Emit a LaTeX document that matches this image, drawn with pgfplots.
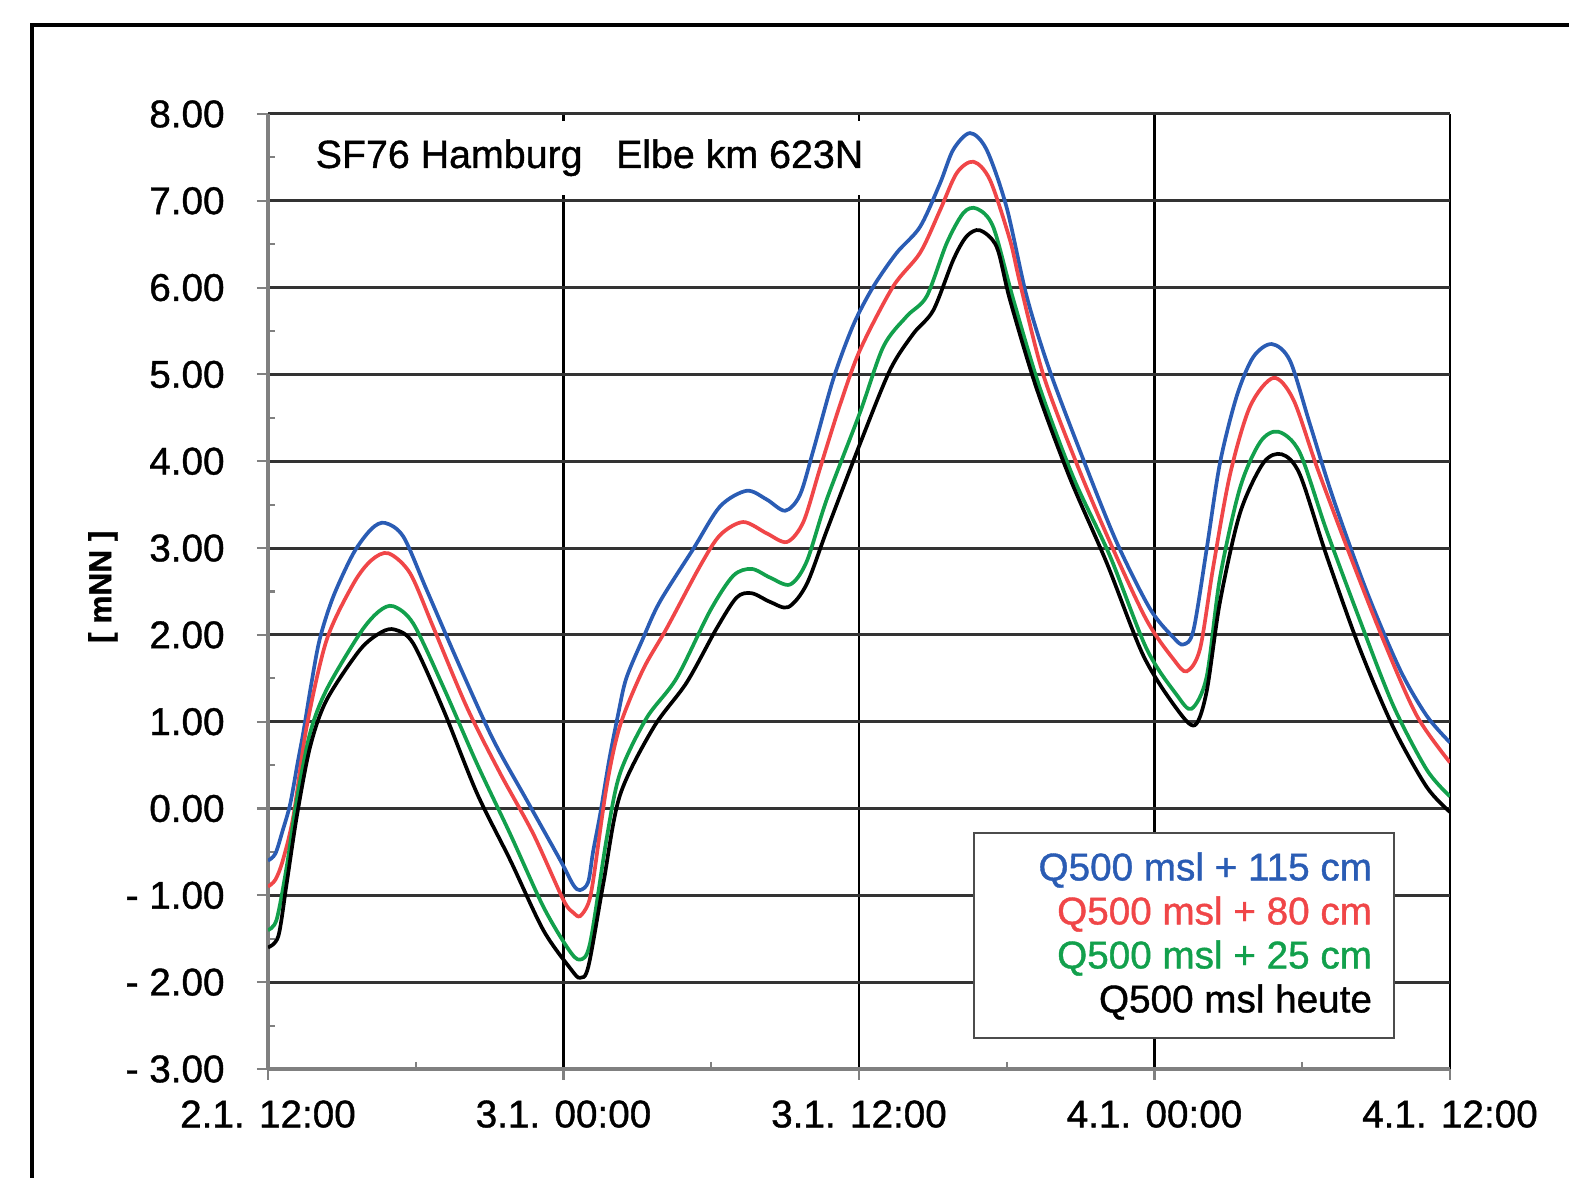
\documentclass[border=0pt]{standalone}
\usepackage{pgfplots}
\pgfplotsset{compat=1.18}
\usepackage{fontspec}
\setmainfont{Liberation Sans}[FakeBold=1.0]
\definecolor{qblue}{RGB}{42,92,180}
\definecolor{qred}{RGB}{240,70,72}
\definecolor{qgreen}{RGB}{18,160,76}
\begin{document}
\begin{tikzpicture}
\useasboundingbox (0,0) rectangle (15.69,11.78);
\begin{scope}
\clip (0,0) rectangle (15.69,11.78);
\draw[line width=0.9pt] (0.32,-1) -- (0.32,11.53) -- (17,11.53);
\end{scope}
\begin{axis}[
  at={(2.68cm,1.09cm)}, anchor=south west,
  scale only axis, width=11.82cm, height=9.55cm,
  xmin=0, xmax=48, ymin=-3, ymax=8,
  axis x line=bottom, axis y line=left,
  axis line style={-, draw=black!50, line width=0.9pt},
  xtick={0,12,24,36,48},
  xticklabels={\mbox{2.1. 12:00},\mbox{3.1. 00:00},\mbox{3.1. 12:00},\mbox{4.1. 00:00},\mbox{4.1. 12:00}},
  minor xtick={6,18,30,42},
  ytick={-3,-2,-1,0,1,2,3,4,5,6,7,8},
  yticklabels={\mbox{- 3.00},\mbox{- 2.00},\mbox{- 1.00},\mbox{0.00},\mbox{1.00},\mbox{2.00},\mbox{3.00},\mbox{4.00},\mbox{5.00},\mbox{6.00},\mbox{7.00},\mbox{8.00}},
  minor ytick={-2.5,-1.5,-0.5,0.5,1.5,2.5,3.5,4.5,5.5,6.5,7.5},
  tick align=outside,
  major tick length=0.11cm,
  minor tick length=-0.07cm,
  tick style={black!50, line width=0.6pt},
  grid=major,
  x grid style={black, line width=0.6pt},
  y grid style={black!80, line width=0.85pt},
  ticklabel style={font=\fontsize{11}{13}\selectfont},
  yticklabel style={xshift=-0.2cm},
  xticklabel style={yshift=-0.08cm},
  ylabel={[ mNN ]},
  ylabel style={at={(rel axis cs:-0.1396,0.505)}, anchor=center, font=\fontsize{9}{11}\selectfont\bfseries},
  legend image code/.code={},
  legend style={at={(rel axis cs:0.9535,0.0314)}, anchor=south east,
    draw=black!70, line width=0.6pt, fill=white,
    inner xsep=0.22cm, inner ysep=0.145cm,
    font=\fontsize{11}{13}\selectfont,
    row sep=0pt,
    nodes={inner sep=0pt, text height=0.33cm, text depth=0.11cm}},
]
\fill[white] (axis cs:0.5,7.92) rectangle (axis cs:24.9,7.07);
\node[anchor=base west, inner sep=0pt, font=\fontsize{11.2}{13}\selectfont] at (axis cs:1.91,7.378) {SF76 Hamburg\hspace{0.85em}Elbe km 623N};

\addplot[qblue, line width=1.05pt, smooth] coordinates {
(0,-0.60) (0.3,-0.52) (0.6,-0.25) (0.9,0.05) (1.2,0.52) (1.43,0.87) (1.75,1.42) (2.1,1.95) (2.65,2.44) (3.47,2.94) (4.2,3.22) (4.75,3.29) (5.5,3.13) (6.44,2.52) (7.80,1.63) (9.15,0.79) (10.50,0.10) (11.86,-0.59) (12.4,-0.88) (12.67,-0.94) (13.0,-0.85) (13.2,-0.5) (13.5,-0.05) (13.85,0.55) (14.23,1.1) (14.55,1.50) (15.23,1.96) (15.91,2.38) (17.27,2.99) (18.36,3.48) (19.44,3.66) (20.25,3.56) (21.0,3.43) (21.6,3.61) (22.15,4.13) (22.96,4.95) (23.77,5.57) (24.58,6.01) (25.53,6.40) (26.48,6.70) (27.29,7.20) (27.83,7.59) (28.51,7.78) (29.18,7.59) (29.99,6.93) (30.81,5.90) (31.75,5.04) (33.11,4.02) (34.46,3.07) (35.82,2.30) (36.77,1.97) (37.17,1.89) (37.58,2.05) (38.12,2.99) (38.66,3.98) (39.34,4.75) (40.01,5.20) (40.76,5.35) (41.50,5.16) (42.31,4.43) (43.26,3.57) (44.62,2.50) (45.97,1.60) (47.05,1.07) (48,0.76)
};
\addlegendentry{\makebox[3.76cm][r]{\textcolor{qblue}{Q500 msl + 115 cm}}}
\addplot[qred, line width=1.05pt, smooth] coordinates {
(0,-0.90) (0.3,-0.82) (0.6,-0.60) (1.03,-0.09) (1.57,0.94) (2.38,1.94) (3.47,2.59) (4.2,2.86) (4.89,2.94) (5.77,2.71) (6.71,2.09) (8.07,1.17) (9.42,0.41) (10.77,-0.29) (11.99,-1.05) (12.4,-1.20) (12.67,-1.24) (13.0,-1.10) (13.21,-0.82) (13.75,0.25) (14.29,0.95) (15.23,1.60) (16.18,2.07) (17.54,2.79) (18.36,3.15) (19.30,3.30) (20.25,3.17) (21.07,3.07) (21.74,3.30) (22.42,3.92) (23.23,4.65) (24.04,5.28) (25.38,6.01) (26.48,6.40) (27.29,6.89) (27.97,7.32) (28.65,7.45) (29.32,7.24) (30.13,6.55) (30.54,6.05) (31.48,5.0) (32.83,3.98) (34.19,3.07) (35.68,2.17) (36.77,1.72) (37.31,1.58) (37.85,1.84) (38.39,2.79) (39.07,3.85) (39.88,4.63) (40.83,4.96) (41.64,4.71) (42.60,3.93) (43.95,2.91) (45.31,1.93) (46.65,1.07) (48,0.53)
};
\addlegendentry{\makebox[3.76cm][r]{\textcolor{qred}{Q500 msl + 80 cm}}}
\addplot[qgreen, line width=1.05pt, smooth] coordinates {
(0,-1.40) (0.35,-1.28) (0.76,-0.67) (1.17,0.10) (1.71,0.87) (2.38,1.37) (3.74,2.02) (4.5,2.27) (5.09,2.33) (5.90,2.13) (7.12,1.40) (8.48,0.52) (9.83,-0.29) (11.18,-1.13) (12.2,-1.62) (12.67,-1.74) (13.08,-1.55) (13.75,-0.35) (14.29,0.40) (15.37,1.04) (16.59,1.50) (17.94,2.27) (18.89,2.68) (19.64,2.76) (20.39,2.66) (21.20,2.58) (21.87,2.84) (22.69,3.56) (24.04,4.56) (24.99,5.32) (25.94,5.67) (26.75,5.90) (27.56,6.51) (28.24,6.86) (28.78,6.91) (29.45,6.70) (30.27,5.86) (31.35,4.84) (32.71,3.81) (34.19,2.91) (35.68,1.84) (36.90,1.31) (37.51,1.15) (38.12,1.52) (38.66,2.66) (39.47,3.69) (40.29,4.22) (41.03,4.34) (41.90,4.10) (42.99,3.20) (44.34,2.17) (45.69,1.19) (47.05,0.45) (48,0.14)
};
\addlegendentry{\makebox[3.76cm][r]{\textcolor{qgreen}{Q500 msl + 25 cm}}}
\addplot[black, line width=1.05pt, smooth] coordinates {
(0,-1.60) (0.42,-1.47) (0.76,-0.86) (1.17,-0.09) (1.71,0.71) (2.38,1.25) (3.74,1.83) (4.6,2.03) (5.16,2.06) (5.90,1.90) (7.12,1.14) (8.48,0.18) (9.83,-0.59) (11.18,-1.40) (12.3,-1.85) (12.67,-1.95) (13.01,-1.82) (13.62,-0.86) (14.29,0.15) (15.65,0.93) (17.0,1.45) (18.21,2.07) (19.03,2.43) (19.64,2.48) (20.39,2.38) (21.13,2.32) (21.87,2.58) (22.69,3.20) (24.04,4.20) (25.26,5.05) (26.21,5.47) (27.02,5.74) (27.83,6.32) (28.37,6.59) (28.91,6.66) (29.59,6.47) (30.13,5.86) (31.21,4.84) (32.56,3.81) (34.06,2.83) (35.55,1.76) (36.90,1.15) (37.64,0.96) (38.12,1.35) (38.66,2.38) (39.47,3.40) (40.42,3.98) (41.17,4.08) (41.90,3.85) (42.99,2.91) (44.34,1.84) (45.69,0.94) (47.05,0.25) (48,-0.04)
};
\addlegendentry{\makebox[3.76cm][r]{Q500 msl heute}}
\end{axis}
\end{tikzpicture}
\end{document}
